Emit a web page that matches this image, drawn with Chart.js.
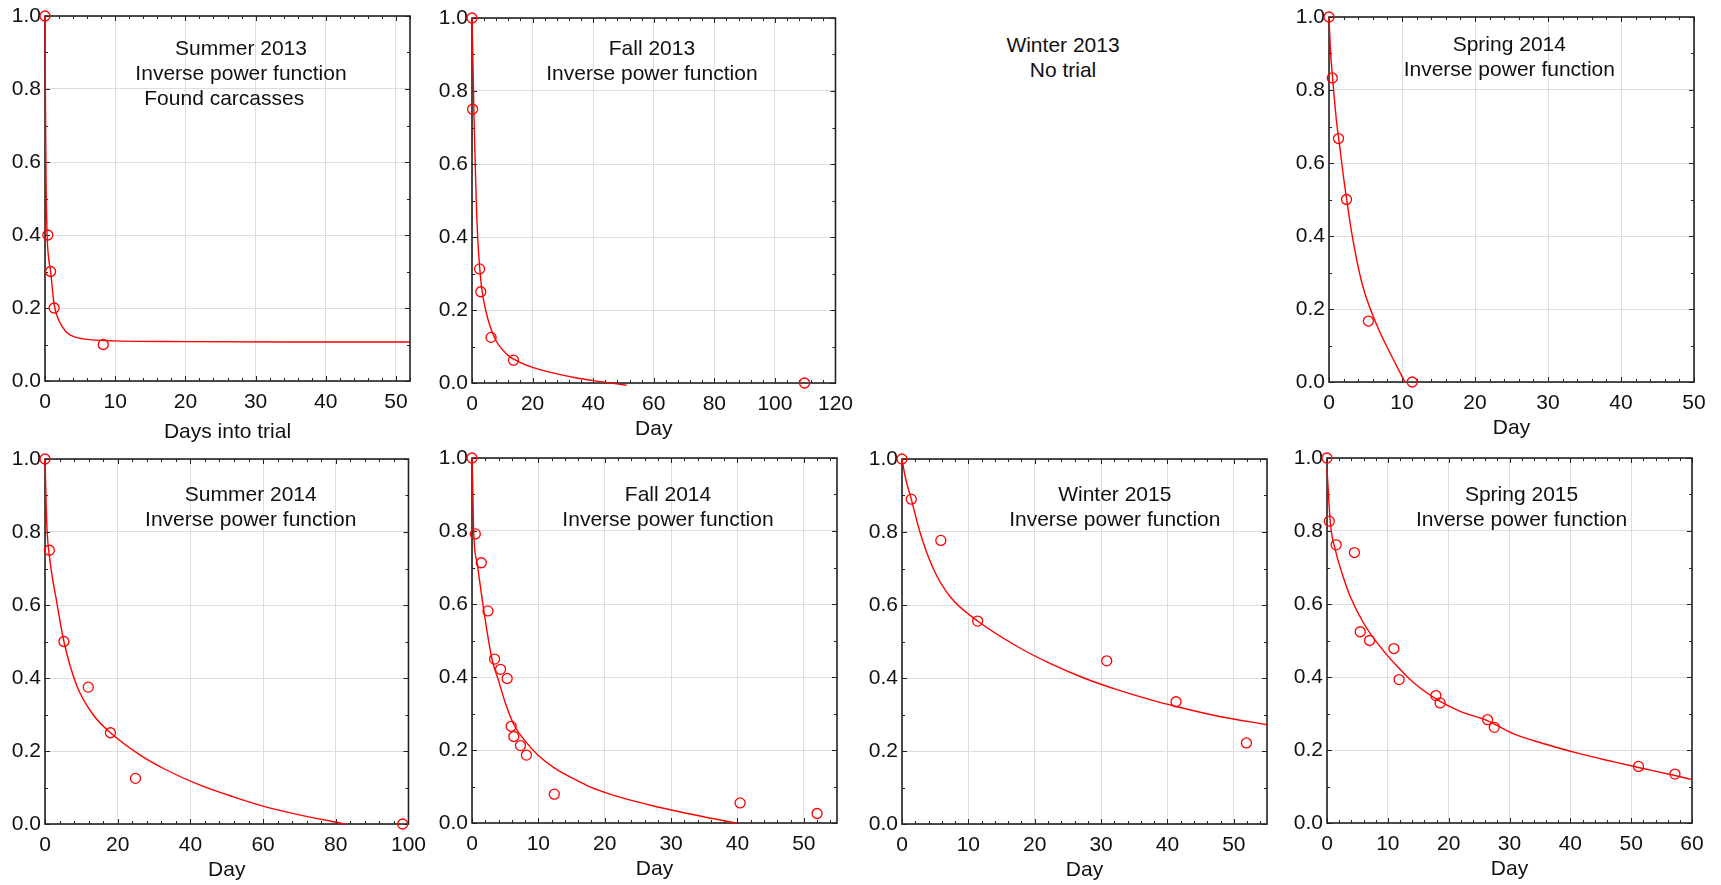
<!DOCTYPE html>
<html>
<head>
<meta charset="utf-8">
<script src="https://cdn.jsdelivr.net/npm/chart.js@4.4.0/dist/chart.umd.min.js"></script>
<style>
  body { margin: 0; background: #fff; width: 1721px; height: 885px; position: relative; overflow: hidden;
         font-family: 'Liberation Sans', Arial, sans-serif; }
  .panel { position: absolute; width: 435px; height: 444px; }
  .note { position: absolute; left: 963px; top: 32px; width: 200px; text-align: center;
          font-size: 21px; line-height: 25px; color: #111; }
</style>
</head>
<body>
<div class="panel" id="p1"><canvas id="c1"></canvas></div>
<div class="panel" id="p2"><canvas id="c2"></canvas></div>
<div class="note">Winter 2013<br>No trial</div>
<div class="panel" id="p4"><canvas id="c4"></canvas></div>
<div class="panel" id="p5"><canvas id="c5"></canvas></div>
<div class="panel" id="p6"><canvas id="c6"></canvas></div>
<div class="panel" id="p7"><canvas id="c7"></canvas></div>
<div class="panel" id="p8"><canvas id="c8"></canvas></div>
<script>
// proportion remaining (y) vs day (x)
const survTicks = [0, 0.2, 0.4, 0.6, 0.8, 1.0];

// Summer 2013
const sum13Day = [0, 0.4, 0.8, 1.3, 8.3];
const sum13Prop = [1.0, 0.4, 0.3, 0.2, 0.1];
const sum13FitDay = [0, 0.05, 0.15, 0.3, 0.5, 0.8, 1.3, 2, 3, 4, 6, 10, 20, 35, 52];
const sum13FitProp = [1.0, 0.8, 0.55, 0.4, 0.34, 0.3, 0.21, 0.165, 0.135, 0.122, 0.114, 0.110, 0.108, 0.107, 0.107];
const sum13XTicks = [0, 10, 20, 30, 40, 50];

// Fall 2013
const fall13Day = [0, 0.2, 2.5, 2.9, 6.3, 13.7, 109.8];
const fall13Prop = [1.0, 0.75, 0.3125, 0.25, 0.125, 0.0625, 0];
const fall13FitDay = [0, 0.3, 0.7, 1.0, 1.4, 2.0, 2.5, 3.2, 4.5, 6, 8, 12, 16, 20, 27, 35, 43, 51];
const fall13FitProp = [1.0, 0.88, 0.72, 0.62, 0.5, 0.38, 0.32, 0.26, 0.2, 0.155, 0.115, 0.075, 0.056, 0.043, 0.027, 0.013, 0.003, -0.006];
const fall13XTicks = [0, 20, 40, 60, 80, 100, 120];

// Spring 2014
const spr14Day = [0, 0.45, 1.3, 2.4, 5.4, 11.4];
const spr14Prop = [1.0, 0.833, 0.667, 0.5, 0.167, 0];
const spr14FitDay = [0, 0.2, 0.5, 1.0, 1.5, 2.0, 2.5, 3.1, 4.5, 6.5, 8.4, 10.4];
const spr14FitProp = [1.0, 0.91, 0.83, 0.72, 0.64, 0.56, 0.49, 0.41, 0.272, 0.158, 0.078, 0.0];
const spr14XTicks = [0, 10, 20, 30, 40, 50];

// Summer 2014
const sum14Day = [0, 1.2, 5.2, 11.9, 18, 24.9, 98.4];
const sum14Prop = [1.0, 0.75, 0.5, 0.375, 0.25, 0.125, 0];
const sum14FitDay = [0, 0.5, 1.4, 3.2, 5.2, 8.7, 13.2, 18, 26, 33, 42.5, 51.6, 60.7, 70, 82.6];
const sum14FitProp = [1.0, 0.82, 0.72, 0.61, 0.5, 0.38, 0.3, 0.25, 0.19, 0.15, 0.107, 0.075, 0.047, 0.025, 0.0];
const sum14XTicks = [0, 20, 40, 60, 80, 100];

// Fall 2014
const fall14Day = [0, 0.5, 1.4, 2.4, 3.4, 4.3, 5.3, 5.9, 6.3, 7.3, 8.2, 12.4, 40.4, 52];
const fall14Prop = [1.0, 0.792, 0.713, 0.581, 0.449, 0.421, 0.396, 0.265, 0.237, 0.212, 0.186, 0.079, 0.055, 0.026];
const fall14FitDay = [0, 0.1, 0.25, 0.8, 1.8, 3.0, 4.0, 5.0, 6.3, 8, 10, 12.4, 15, 17.4, 20, 22.4, 27.5, 32.5, 36, 39.9];
const fall14FitProp = [1.0, 0.93, 0.8, 0.71, 0.58, 0.45, 0.39, 0.33, 0.27, 0.225, 0.185, 0.151, 0.124, 0.102, 0.084, 0.07, 0.046, 0.026, 0.013, 0.0];
const fall14XTicks = [0, 10, 20, 30, 40, 50];

// Winter 2015
const win15Day = [0, 1.4, 5.85, 11.4, 30.85, 41.3, 51.9];
const win15Prop = [1.0, 0.89, 0.777, 0.556, 0.447, 0.335, 0.222];
const win15FitDay = [0, 0.5, 1.4, 2.7, 4.7, 7.2, 11.4, 17.3, 22.3, 27.4, 32.4, 37.5, 41.3, 47.5, 55];
const win15FitProp = [1.0, 0.95, 0.89, 0.8, 0.7, 0.624, 0.556, 0.487, 0.44, 0.4, 0.368, 0.34, 0.322, 0.296, 0.272];
const win15XTicks = [0, 10, 20, 30, 40, 50];

// Spring 2015
const spr15Day = [0, 0.38, 1.5, 4.5, 5.46, 7.0, 11.0, 11.85, 17.9, 18.6, 26.4, 27.5, 51.2, 57.2];
const spr15Prop = [1.0, 0.827, 0.762, 0.741, 0.524, 0.5, 0.478, 0.393, 0.349, 0.329, 0.283, 0.262, 0.155, 0.134];
const spr15FitDay = [0, 0.55, 1.36, 2.46, 3.8, 6.0, 8.7, 11.5, 14.2, 18.6, 22, 26.4, 30.6, 36.1, 41.5, 47, 51.2, 57.2, 60];
const spr15FitProp = [0.97, 0.822, 0.749, 0.685, 0.621, 0.548, 0.484, 0.43, 0.385, 0.333, 0.305, 0.28, 0.245, 0.215, 0.19, 0.168, 0.152, 0.13, 0.119];
const spr15XTicks = [0, 10, 20, 30, 40, 50, 60];

Chart.defaults.font.family = "'Liberation Sans', Arial, sans-serif";
Chart.defaults.font.size = 21;
Chart.defaults.color = '#111';
Chart.defaults.animation = false;

const RED = '#ff0000';

function toXY(xs, ys) {
  return xs.map((x, i) => ({ x: x, y: ys[i] }));
}

function makeChart(c) {
  const box = document.getElementById(c.box);
  box.style.left = (c.left - 45) + 'px';
  box.style.top = (c.top - 17) + 'px';

  // frame with inward ticks on all four sides
  const frame = {
    id: 'frame' + c.box,
    beforeDatasetsDraw(chart) {
      const { ctx, chartArea: a } = chart;
      const xs = chart.scales.x, ys = chart.scales.y;
      ctx.save();
      ctx.strokeStyle = '#222';
      ctx.lineWidth = 1.6;
      ctx.strokeRect(a.left, a.top, a.right - a.left, a.bottom - a.top);
      ctx.lineWidth = 1;
      ctx.beginPath();
      for (let v = 0; v <= c.xMax + 1e-9; v += c.xMinor) {
        const px = Math.round(xs.getPixelForValue(v)) + 0.5;
        const len = c.xTicks.some(t => Math.abs(t - v) < 1e-6) ? 5 : 3;
        ctx.moveTo(px, a.bottom); ctx.lineTo(px, a.bottom - len);
        ctx.moveTo(px, a.top); ctx.lineTo(px, a.top + len);
      }
      for (let i = 0; i <= 10; i++) {
        const py = Math.round(ys.getPixelForValue(i / 10)) + 0.5;
        const len = i % 2 === 0 ? 5 : 3;
        ctx.moveTo(a.left, py); ctx.lineTo(a.left + len, py);
        ctx.moveTo(a.right, py); ctx.lineTo(a.right - len, py);
      }
      ctx.stroke();
      ctx.restore();
    },
    afterDraw(chart) {
      const { ctx, chartArea: a } = chart;
      ctx.save();
      ctx.font = "21px 'Liberation Sans', Arial, sans-serif";
      ctx.fillStyle = '#111';
      ctx.textAlign = 'center';
      ctx.textBaseline = 'middle';
      c.text.forEach((ln, i) => {
        ctx.fillText(ln[0], a.left + ln[1] * (a.right - a.left), a.top + c.textTop + i * 25);
      });
      ctx.restore();
    }
  };

  new Chart(document.getElementById(c.canvas), {
    type: 'scatter',
    data: {
      datasets: [
        {
          data: toXY(c.ptsX, c.ptsY),
          pointStyle: 'circle',
          pointRadius: 5,
          pointBorderWidth: 1.3,
          borderColor: RED,
          backgroundColor: 'rgba(0,0,0,0)',
          clip: false,
          order: 0
        },
        {
          data: toXY(c.fitX, c.fitY),
          showLine: true,
          pointRadius: 0,
          borderColor: RED,
          borderWidth: 1.4,
          cubicInterpolationMode: 'monotone',
          clip: false,
          order: 1
        }
      ]
    },
    options: {
      responsive: true,
      maintainAspectRatio: false,
      layout: { padding: { top: 17, right: 25, left: 0, bottom: 0 } },
      plugins: { legend: { display: false }, tooltip: { enabled: false } },
      scales: {
        x: {
          type: 'linear',
          min: 0,
          max: c.xMax,
          afterBuildTicks: s => { s.ticks = c.xTicks.map(v => ({ value: v })); },
          afterFit: s => { s.height = 62; },
          ticks: { padding: 9, maxRotation: 0, autoSkip: false, callback: v => String(v) },
          grid: { color: '#dddddd', lineWidth: 1, drawTicks: false },
          border: { display: false },
          title: { display: true, text: c.xTitle, padding: { top: 0, bottom: c.titlePad } }
        },
        y: {
          min: 0,
          max: 1,
          afterBuildTicks: s => { s.ticks = survTicks.map(v => ({ value: v })); },
          afterFit: s => { s.width = 45; },
          ticks: { padding: 4, callback: v => Number(v).toFixed(1) },
          grid: { color: '#dddddd', lineWidth: 1, drawTicks: false },
          border: { display: false }
        }
      }
    },
    plugins: [frame]
  });
}

makeChart({ box: 'p1', canvas: 'c1', left: 45, top: 16, xMax: 52, xTicks: sum13XTicks, xMinor: 2,
  xTitle: 'Days into trial', titlePad: -2, ptsX: sum13Day, ptsY: sum13Prop, fitX: sum13FitDay, fitY: sum13FitProp,
  textTop: 33, text: [['Summer 2013', 0.537], ['Inverse power function', 0.537], ['Found carcasses', 0.491]] });

makeChart({ box: 'p2', canvas: 'c2', left: 472, top: 18, xMax: 120, xTicks: fall13XTicks, xMinor: 4,
  xTitle: 'Day', titlePad: 3, ptsX: fall13Day, ptsY: fall13Prop, fitX: fall13FitDay, fitY: fall13FitProp,
  textTop: 31, text: [['Fall 2013', 0.495], ['Inverse power function', 0.495]] });

makeChart({ box: 'p4', canvas: 'c4', left: 1329, top: 17, xMax: 50, xTicks: spr14XTicks, xMinor: 2,
  xTitle: 'Day', titlePad: 3, ptsX: spr14Day, ptsY: spr14Prop, fitX: spr14FitDay, fitY: spr14FitProp,
  textTop: 28, text: [['Spring 2014', 0.494], ['Inverse power function', 0.494]] });

makeChart({ box: 'p5', canvas: 'c5', left: 45, top: 459, xMax: 100, xTicks: sum14XTicks, xMinor: 4,
  xTitle: 'Day', titlePad: 3, ptsX: sum14Day, ptsY: sum14Prop, fitX: sum14FitDay, fitY: sum14FitProp,
  textTop: 36, text: [['Summer 2014', 0.566], ['Inverse power function', 0.566]] });

makeChart({ box: 'p6', canvas: 'c6', left: 472, top: 458, xMax: 55, xTicks: fall14XTicks, xMinor: 2,
  xTitle: 'Day', titlePad: 3, ptsX: fall14Day, ptsY: fall14Prop, fitX: fall14FitDay, fitY: fall14FitProp,
  textTop: 37, text: [['Fall 2014', 0.537], ['Inverse power function', 0.537]] });

makeChart({ box: 'p7', canvas: 'c7', left: 902, top: 459, xMax: 55, xTicks: win15XTicks, xMinor: 2,
  xTitle: 'Day', titlePad: 3, ptsX: win15Day, ptsY: win15Prop, fitX: win15FitDay, fitY: win15FitProp,
  textTop: 36, text: [['Winter 2015', 0.583], ['Inverse power function', 0.583]] });

makeChart({ box: 'p8', canvas: 'c8', left: 1327, top: 458, xMax: 60, xTicks: spr15XTicks, xMinor: 2,
  xTitle: 'Day', titlePad: 3, ptsX: spr15Day, ptsY: spr15Prop, fitX: spr15FitDay, fitY: spr15FitProp,
  textTop: 37, text: [['Spring 2015', 0.533], ['Inverse power function', 0.533]] });
</script>
</body>
</html>
